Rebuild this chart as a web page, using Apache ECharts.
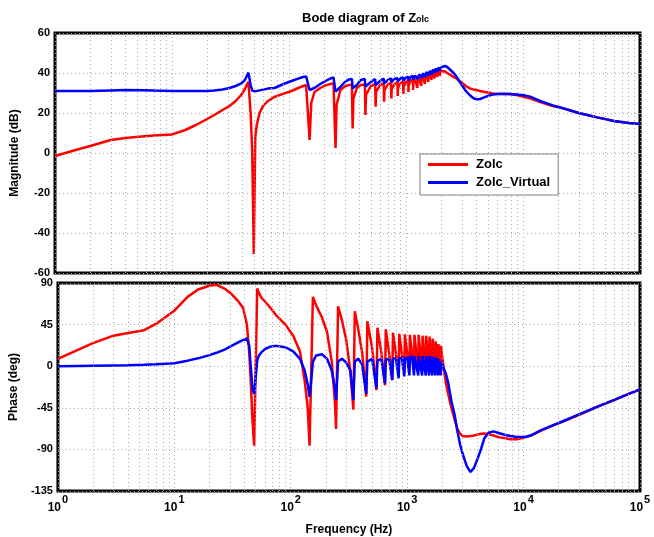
<!DOCTYPE html>
<html><head><meta charset="utf-8">
<script src="https://cdn.jsdelivr.net/npm/echarts@6/dist/echarts.min.js"></script>
<style>html,body{margin:0;padding:0;background:#fff}#c{width:654px;height:537px}</style>
</head><body><div id="c"></div>
<script>
// ---- data ----
const freqHz = [
  1, 1.5, 2, 3, 4, 5.5, 7, 10, 13, 16, 20, 23, 27, 31, 35, 39, 42, 44, 45,
  47, 48.5, 50, 51.5, 53, 56, 60, 66, 75, 90, 105, 120, 132, 140,
  145, 150, 155, 165, 185, 205, 225, 240,
  245, 250, 255, 275, 300, 325, 345,
  350, 355, 380, 410, 445,
  450, 455, 500, 545,
  550, 555, 600, 645,
  650, 655, 700, 745,
  750, 755, 800, 845,
  850, 855, 900, 945,
  950, 955, 1000, 1045,
  1050, 1055, 1100, 1145,
  1150, 1155, 1200, 1245,
  1250, 1255, 1300, 1345,
  1350, 1355, 1400, 1445,
  1450, 1455, 1500, 1545,
  1550, 1555, 1600, 1645,
  1650, 1655, 1700, 1745,
  1750, 1755, 1800, 1845,
  1850, 1855, 1900, 1945,
  1950, 1955, 2000, 2050, 2150, 2250, 2400, 2550, 2700, 2850, 3000, 3250, 3500, 3750, 4000, 4300, 4600, 5000, 5500, 6200, 7000, 7700, 8800, 10500, 11500, 14000, 18000, 22000, 30000, 43000, 60000, 80000, 100000
];
const zolcMag = [
  -1.5, 1.5, 3.5, 6.5, 7.5, 8.3, 8.7, 9.3, 11.5, 14, 17, 19, 21.5, 23.5, 26, 29, 32, 34.5, 35.6,
  20, 0, -50.5, 8, 14, 20, 23.5, 26, 28, 29.7, 31, 32.5, 33.5, 34,
  34.5, 6.5, 25, 30.5, 32.5, 33.8, 34.5, 34.8,
  34, 2.5, 24, 31.5, 33.3, 34, 34,
  12.3, 27, 32.5, 34, 34.3,
  19, 29, 33.5, 34.5,
  23.2, 30.5, 34, 34.8,
  25.7, 31.5, 34.3, 35,
  27.3, 32, 34.6, 35.3,
  28.5, 32.5, 35, 35.7,
  29.5, 33, 35.5, 36.2,
  30.5, 33.8, 36.2, 36.8,
  31.5, 34.5, 36.8, 37.5,
  32.5, 35.3, 37.5, 38.2,
  33.5, 36, 38.2, 38.8,
  34.5, 36.8, 38.8, 39.4,
  35.5, 37.5, 39.4, 40,
  36.5, 38.3, 40, 40.5,
  37.3, 38.9, 40.5, 40.8,
  38, 39.5, 40.8, 41.1,
  38.7, 40, 41, 41, 40.8, 40, 39, 38, 37.3, 36, 35.2, 33.5, 32.3, 31.8, 31.5, 31, 30.6, 30.2, 29.8, 29.6, 29.5, 29.5, 29, 27.8, 27.3, 25.5, 23.5, 22.3, 20, 17.8, 16, 15, 14.5
];
const virtualMag = [
  31, 31, 31, 31.3, 31.5, 31.4, 31.2, 31, 31, 31, 31, 31.2, 31.8, 32.5, 33.5, 34.8, 36.5, 39, 40.2,
  34, 31.2, 30.7, 30.8, 31, 31.3, 31.7, 32.2, 32.5, 34.5, 36, 37.2, 38, 38.3,
  38.5, 31.5, 31.3, 32.5, 34.5, 36, 37.2, 37.8,
  37.5, 30.7, 31, 33, 35.5, 36.8, 37,
  32.3, 32.5, 34, 36.5, 37,
  33.2, 33.5, 35.5, 37,
  34, 34.5, 36, 37.2,
  34.8, 35.3, 36.5, 37.3,
  35.5, 36, 37, 37.5,
  35.8, 36.3, 37.3, 37.8,
  36, 36.6, 37.7, 38.2,
  36.3, 37, 38.2, 38.6,
  36.6, 37.3, 38.7, 39.2,
  37, 37.8, 39.3, 39.8,
  37.5, 38.3, 39.9, 40.4,
  38, 38.9, 40.5, 41,
  38.7, 39.5, 41.1, 41.6,
  39.3, 40.1, 41.7, 42.2,
  40, 40.8, 42.3, 42.7,
  40.6, 41.4, 42.8, 43.1,
  41.2, 42, 42.8, 43.3, 43.5, 43, 41.5, 40, 38.2, 36, 34, 31, 29, 27.5, 26.8, 27, 27.7, 28.5, 29.2, 29.5, 29.6, 29.5, 29.3, 28.7, 28.2, 26, 23.8, 22.4, 20, 17.8, 16, 15, 14.5
];
const zolcPhase = [
  8, 18, 25, 33, 36, 39, 46, 60, 75, 83, 87, 88, 84, 78, 71, 63, 45, 15, -8,
  -60, -86, 0, 84, 80, 74, 70, 64, 55, 45, 33, 16, -17, -45,
  -86, -5, 75, 66, 53, 37, 5, -40,
  -68, 0, 64.7, 50, 28, -5, -47,
  5, 59.4, 40, 15, -33,
  5, 48.7, 20, -26,
  5, 41.7, 15, -20.6,
  8, 39.9, 14, -15,
  8, 36.3, 14, -10,
  10, 35, 14, -7,
  10, 34.5, 14, -5,
  12, 34, 14, -5,
  12, 34, 14, -5,
  12, 34, 14, -5,
  12, 33, 14, -5,
  12, 33, 14, -5,
  12, 32, 13, -6,
  10, 30, 10, -7,
  8, 27, 8, -8,
  5, 24, 5, -9,
  5, 22, 10, 0, -18, -30, -45, -57, -68, -73, -75.5, -76, -75.5, -75, -74, -73, -72.8, -73.5, -75, -77, -78, -79, -79, -76.5, -75, -70, -64, -59.6, -52.5, -44, -36.7, -30, -25
];
const virtualPhase = [
  0, 0.3, 0.5, 0.8, 1, 1.5, 2, 3.3, 6, 8.5, 12, 14.5, 18, 22, 25.5, 28.5, 30, 22, 5,
  -25, -30, -12, 6, 11, 15, 18.5, 21, 22, 20.5, 16, 8, -5, -20,
  -33, -15, 5, 11.5, 13, 8, -4.6, -25,
  -36.6, -15, 5, 8, 4, -4.6, -36.6,
  -15, 5, 8, 2, -30,
  -12, 5, 8, -24,
  -8, 6, 8, -18.8,
  -5, 7, 8, -15,
  -3, 8, 8.5, -13,
  -2, 8.5, 9, -11,
  -1, 9, 9.5, -10,
  0, 10, 10.5, -10,
  0, 10.5, 11, -10,
  0, 11, 11.4, -10,
  0, 11, 11.4, -10,
  0, 11, 11.4, -10,
  0, 11, 11, -10,
  0, 10.5, 10.5, -10,
  -1, 10, 9.5, -10,
  -2, 8, 7, -10,
  -3, 5, 2, -2, -8, -18, -38, -52, -70, -85, -95, -108, -114.5, -110, -101, -90, -78, -72, -70.5, -72.5, -74.5, -75.5, -76.7, -76.3, -75, -69.5, -63.8, -59.3, -52.2, -43.8, -36.5, -30, -25
];
const seriesNames = ['Zolc', 'Zolc_Virtual'];
const magTicks = [-60, -40, -20, 0, 20, 40, 60];
const phaseTicks = [-135, -90, -45, 0, 45, 90];
const freqDecades = [0, 1, 2, 3, 4, 5];

// ---- chart ----
const FONT = '"Liberation Sans", Arial, Helvetica, sans-serif';
const chart = echarts.init(document.getElementById('c'), null, {renderer: 'canvas'});
const pairs = vals => freqHz.map((f, i) => [f, vals[i]]);
const gridLine = {color: '#a8a8a8', width: 1, type: [1, 3]};
const minorGrid = [];
for (let d = freqDecades[0]; d < freqDecades[freqDecades.length - 1]; d++)
  for (let m = 2; m <= 9; m++) minorGrid.push({xAxis: m * Math.pow(10, d)});

const fMin = Math.pow(10, freqDecades[0]), fMax = Math.pow(10, freqDecades[freqDecades.length - 1]);
function xAxis(gridIndex, showLabel) {
  return {
    type: 'log', logBase: 10, min: fMin, max: fMax, gridIndex,
    axisLine: {show: false}, axisTick: {show: false},
    splitLine: {show: true, lineStyle: gridLine},
    axisLabel: showLabel ? {
      show: true, margin: 3,
      formatter: v => '{b|10}{e|' + Math.round(Math.log10(v)) + '}',
      rich: {
        b: {fontFamily: FONT, fontWeight: 'bold', fontSize: 12, color: '#000'},
        e: {fontFamily: FONT, fontWeight: 'bold', fontSize: 11, color: '#000', padding: [0, 0, 16, 1]}
      }
    } : {show: false},
    name: showLabel ? 'Frequency (Hz)' : '',
    nameLocation: 'middle', nameGap: 33,
    nameTextStyle: {fontFamily: FONT, fontWeight: 'bold', fontSize: 12, color: '#000'}
  };
}
function yAxis(gridIndex, ticks, name) {
  return {
    type: 'value', gridIndex, min: ticks[0], max: ticks[ticks.length - 1],
    interval: ticks[1] - ticks[0],
    axisLine: {show: false}, axisTick: {show: false},
    splitLine: {show: true, lineStyle: gridLine},
    axisLabel: {fontFamily: FONT, fontWeight: 'bold', fontSize: 11, color: '#000', margin: 5},
    name, nameLocation: 'middle', nameRotate: 90, nameGap: 34,
    nameTextStyle: {fontFamily: FONT, fontWeight: 'bold', fontSize: 12, color: '#000'}
  };
}
function lineSeries(name, color, xi, vals) {
  return {
    name, type: 'line', xAxisIndex: xi, yAxisIndex: xi, data: pairs(vals),
    showSymbol: false, symbol: 'none', z: 3, silent: true,
    lineStyle: {color, width: 2.5}, itemStyle: {color}
  };
}
function gridSeries(xi) {
  return {
    type: 'line', xAxisIndex: xi, yAxisIndex: xi, data: [], z: 1, silent: true,
    markLine: {silent: true, symbol: ['none', 'none'], label: {show: false},
      lineStyle: gridLine, data: minorGrid, animation: false}
  };
}

chart.setOption({
  animation: false,
  backgroundColor: '#fff',
  title: {
    text: '{a|Bode diagram of Z}{b|olc}', left: 297, top: 5,
    textStyle: {rich: {
      a: {fontFamily: FONT, fontWeight: 'bold', fontSize: 13, color: '#000', lineHeight: 16},
      b: {fontFamily: FONT, fontWeight: 'bold', fontSize: 9, color: '#000', verticalAlign: 'bottom', lineHeight: 11, padding: [0, 0, 2, 0]}
    }}
  },
  legend: {
    data: seriesNames, orient: 'vertical', left: 420, top: 154,
    icon: 'rect', itemWidth: 40, itemHeight: 3, itemGap: 5,
    padding: [4, 8, 6, 8], backgroundColor: '#fff', borderColor: '#808080', borderWidth: 1,
    textStyle: {fontFamily: FONT, fontWeight: 'bold', fontSize: 13, color: '#000', padding: [0, 0, 0, 3]},
    z: 10
  },
  grid: [
    {left: 55, top: 33, width: 585, height: 240, show: true, borderColor: '#000', borderWidth: 3, backgroundColor: 'transparent', containLabel: false},
    {left: 55, top: 283, width: 585, height: 211, show: true, borderColor: '#000', borderWidth: 3, backgroundColor: 'transparent', containLabel: false}
  ],
  xAxis: [xAxis(0, false), xAxis(1, true)],
  yAxis: [yAxis(0, magTicks, 'Magnitude (dB)'), yAxis(1, phaseTicks, 'Phase (deg)')],
  series: [
    gridSeries(0), gridSeries(1),
    lineSeries(seriesNames[0], '#ff0000', 0, zolcMag),
    lineSeries(seriesNames[1], '#0000ff', 0, virtualMag),
    lineSeries(seriesNames[0], '#ff0000', 1, zolcPhase),
    lineSeries(seriesNames[1], '#0000ff', 1, virtualPhase)
  ]
});
</script>
</body></html>
